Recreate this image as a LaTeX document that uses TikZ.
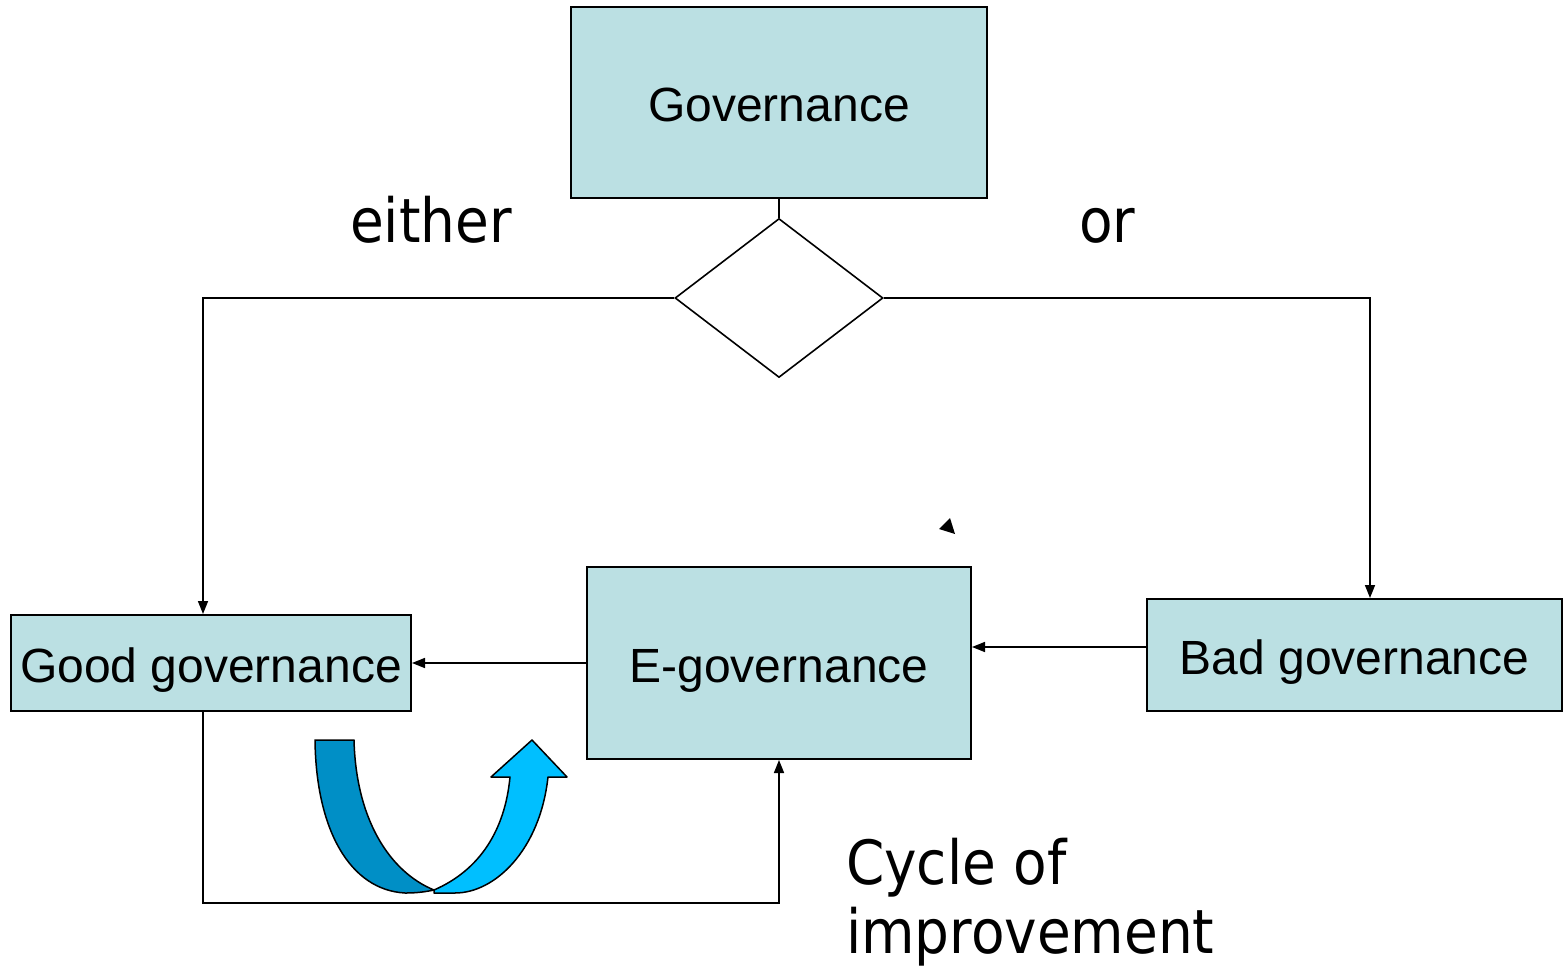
\documentclass[tikz,border=0pt]{standalone}
\usepackage{fontspec}
\setmainfont{Liberation Sans}
\newfontfamily\tahfont{DejaVu Sans Condensed}
\usetikzlibrary{shapes.geometric,arrows.meta}
\definecolor{boxfill}{HTML}{BBE0E3}
\definecolor{darkblue}{HTML}{008FC6}
\definecolor{lightblue}{HTML}{00BFFF}
\tikzset{
  gbox/.style={draw=black, line width=2pt, fill=boxfill, inner sep=0pt,
    font=\fontsize{48}{56}\selectfont, text height=48pt, text depth=10pt},
  conn/.style={line width=1.6pt, draw=black},
  arr/.style={conn, -{Triangle[length=13pt,width=10pt]}},
  bigtext/.style={font=\tahfont\fontsize{61}{69}\selectfont, inner sep=0pt}
}
\begin{document}
\begin{tikzpicture}[x=1pt,y=-1pt]
\useasboundingbox (0,0) rectangle (1563,968);
% boxes
\node[gbox, minimum width=416pt, minimum height=191pt] (gov) at (779,102.5) {Governance};
\node[gbox, minimum width=400pt, minimum height=96pt] (good) at (211,663) {Good governance};
\node[gbox, minimum width=384pt, minimum height=192pt] (egov) at (779,663) {E-governance};
\node[gbox, minimum width=415pt, minimum height=112pt] (bad) at (1354.5,655) {Bad governance};
\node[diamond, draw=black, line width=1.6pt, inner sep=0pt, minimum width=208pt, minimum height=159pt] (dia) at (779,298) {};
% connectors
\draw[conn] (gov.south) -- (dia.north);
\coordinate (lc) at (203,296);
\coordinate (rc) at (1370,296);
\draw[arr] (dia.west) -- (dia.west -| lc) -- (lc |- good.north);
\draw[arr] (dia.east) -- (dia.east -| rc) -- (rc |- bad.north);
\draw[arr] (egov.west) -- (good.east);
\coordinate (bw) at ([yshift=8pt]bad.west);
\draw[arr] (bw) -- (bw -| egov.east);
\coordinate (bl) at (203,903);
\draw[arr] (lc |- good.south) -- (bl) -- (bl -| egov.south) -- (egov.south);
% stray small arrowhead
\fill (939,529) -- (950,518) -- (955,534) -- cycle;
% curved U arrow
\draw[line width=1.5pt, fill=darkblue, line join=round]
  (315,740) -- (354,740) .. controls (356,820) and (390,872) .. (434,890)
  .. controls (420,893) and (410,893) .. (405,893)
  .. controls (350,890) and (316,830) .. cycle;
\draw[line width=1.5pt, fill=lightblue, line join=round]
  (434,890) .. controls (480,870) and (505,830) .. (510,777)
  -- (491,777) -- (532,740) -- (567,777) -- (548,777)
  .. controls (540,850) and (495,893) .. (455,893)
  -- (434,893) -- cycle;
% texts
\node[bigtext, anchor=base west] (either) at (350,243) {either};
\node[bigtext, anchor=base west] (or) at (1079,243) {or};
\node[bigtext, anchor=base west, align=left] (cyc) at (846,953) {Cycle of\\improvement};
\end{tikzpicture}
\end{document}
